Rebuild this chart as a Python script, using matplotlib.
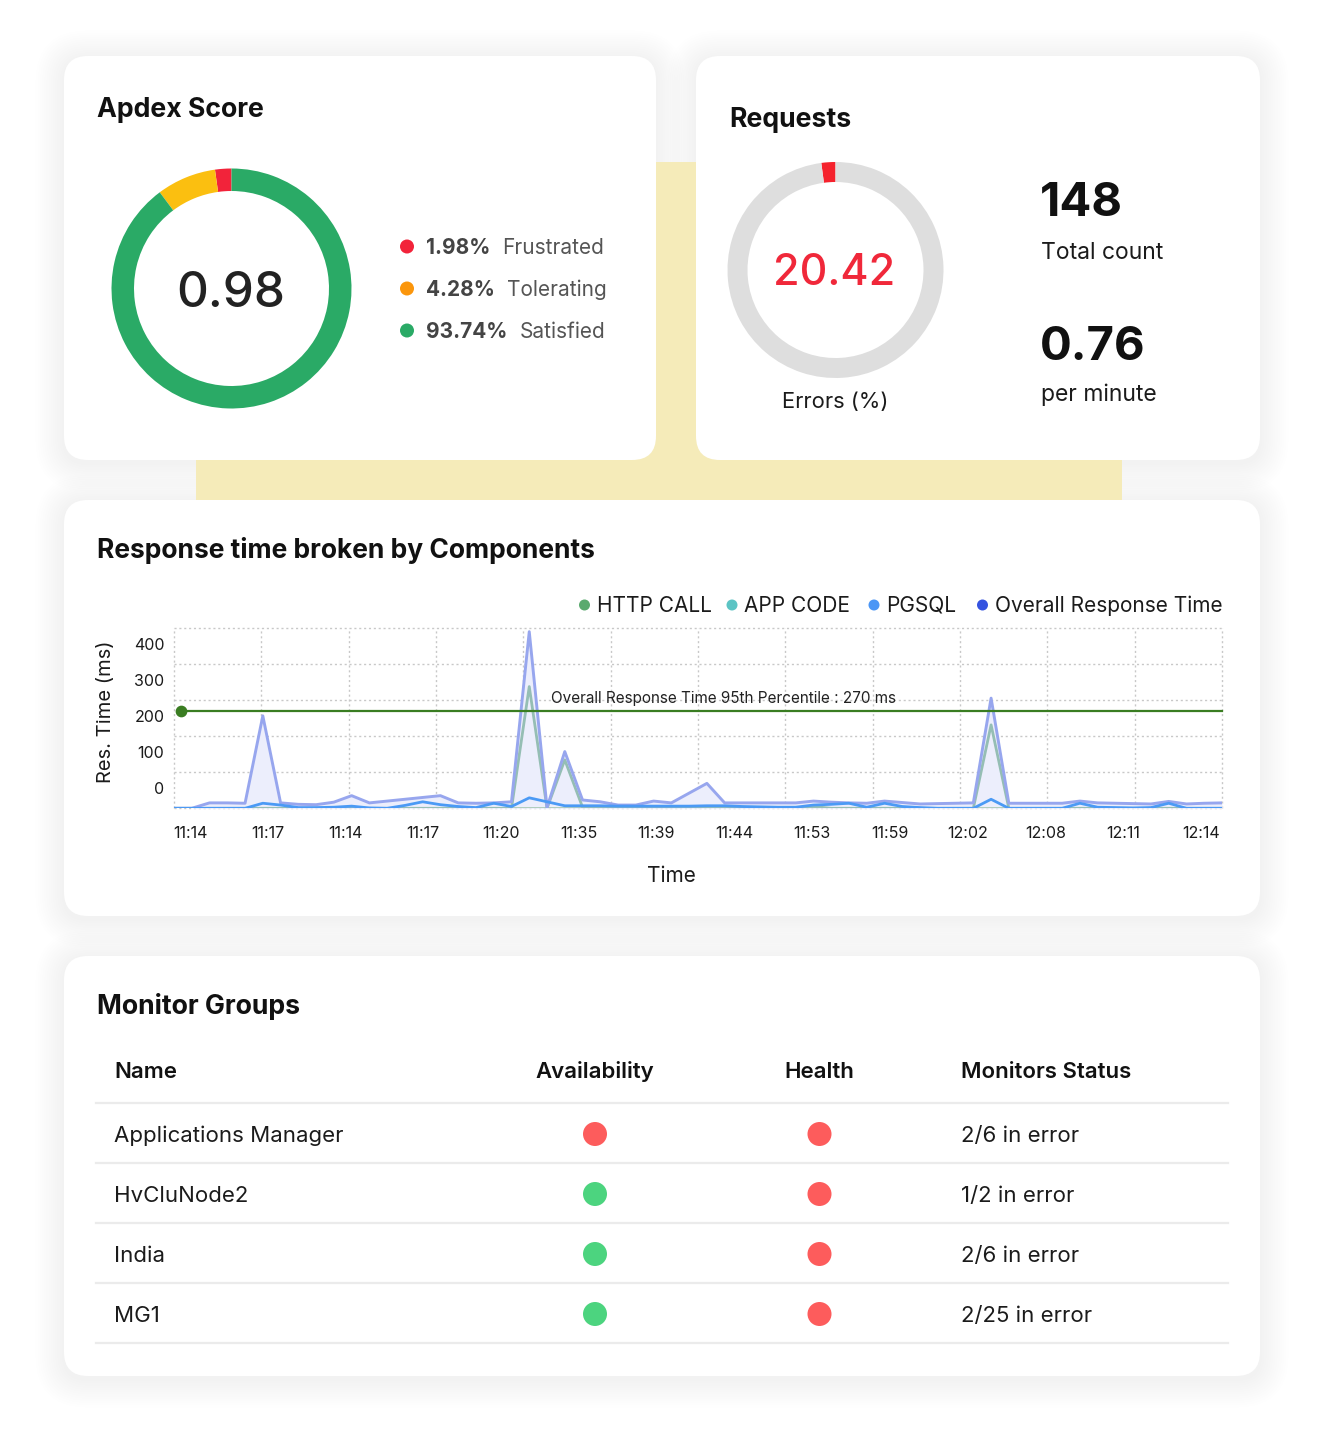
import matplotlib
matplotlib.use('Agg')
import matplotlib.pyplot as plt
from matplotlib.patches import FancyBboxPatch, Rectangle, Circle
import numpy as np

W, H = 1324, 1448
FONT = ['Inter', 'DejaVu Sans']
plt.rcParams['font.family'] = FONT

# ---------------- data ----------------
apdex_score = '0.98'
apdex_labels = ['Frustrated', 'Tolerating', 'Satisfied']
apdex_pct_text = ['1.98%', '4.28%', '93.74%']
apdex_arc_share = [2.2, 8.0, 89.8]          # arc lengths as drawn in the ring
apdex_ring_colors = ['#f2233a', '#fbbf10', '#2aaa66']
apdex_dot_colors = ['#f2233a', '#fb960c', '#2aaa66']

error_pct_text = '20.42'
error_arc_share = [2.1, 97.9]
requests_total = '148'
requests_per_min = '0.76'

time_labels = ['11:14', '11:17', '11:14', '11:17', '11:20', '11:35', '11:39',
               '11:44', '11:53', '11:59', '12:02', '12:08', '12:11', '12:14']

series_names = ['HTTP CALL', 'APP CODE', 'PGSQL', 'Overall Response Time']
overall = [0, 0, 15, 15, 14, 256, 15, 11, 10, 17,
           35, 15, 20, 25, 30, 35, 15, 14, 15, 18,
           489, 2, 157, 23, 18, 9, 9, 20, 15, 42,
           69, 15, 15, 15, 15, 15, 20, 17, 15, 14,
           20, 16, 12, 13, 14, 15, 305, 14, 14, 14,
           14, 20, 15, 14, 13, 12, 19, 12, 14, 15]
app_code = [0, 0, 0, 0, 0, 0, 0, 0, 0, 0,
            0, 0, 0, 0, 0, 0, 0, 0, 0, 0,
            337, 0, 134, 3, 0, 0, 0, 0, 0, 0,
            0, 0, 0, 0, 0, 0, 5, 0, 0, 0,
            0, 0, 0, 0, 0, 0, 231, 0, 0, 0,
            0, 0, 0, 0, 0, 0, 0, 0, 0, 0]
pgsql = [0, 0, 0, 0, 0, 14, 9, 2, 2, 3,
         6, 1, 0, 8, 18, 10, 5, 2, 14, 5,
         29, 18, 7, 7, 7, 6, 6, 6, 6, 6,
         7, 7, 5, 4, 3, 3, 9, 11, 14, 3,
         14, 5, 2, 0, 0, 0, 25, 0, 0, 0,
         0, 14, 3, 2, 1, 2, 14, 0, 0, 0]
http_call = [0, 0, 0, 0, 0, 0, 0, 0, 0, 0,
             0, 0, 0, 0, 0, 0, 0, 0, 0, 0,
             0, 0, 0, 0, 0, 0, 0, 0, 0, 0,
             0, 0, 0, 0, 0, 0, 0, 0, 0, 0,
             0, 0, 0, 0, 0, 0, 0, 0, 0, 0,
             0, 0, 0, 0, 0, 0, 0, 0, 0, 0]
p95_value = 270
y_tick_labels = ['0', '100', '200', '300', '400']

table_headers = ['Name', 'Availability', 'Health', 'Monitors Status']
group_names = ['Applications Manager', 'HvCluNode2', 'India', 'MG1']
availability = ['down', 'up', 'up', 'up']
health = ['critical', 'critical', 'critical', 'critical']
monitor_status = ['2/6 in error', '1/2 in error', '2/6 in error', '2/25 in error']

# ---------------- figure ----------------
fig = plt.figure(figsize=(W / 100, H / 100), dpi=100)
fig.patch.set_facecolor('white')
bg = fig.add_axes([0, 0, 1, 1])
bg.set_xlim(0, W)
bg.set_ylim(H, 0)
bg.axis('off')

def px2fig(x0, y0, x1, y1):
    return [x0 / W, 1 - y1 / H, (x1 - x0) / W, (y1 - y0) / H]

cards = [(64, 56, 656, 460), (696, 56, 1260, 460), (64, 500, 1260, 916), (64, 956, 1260, 1376)]

def shadow(x0, y0, x1, y1, r=24):
    w, h = x1 - x0, y1 - y0
    for i in range(1, 14):
        s = i * 2.2
        bg.add_patch(FancyBboxPatch((x0 - s, y0 - s + 3), w + 2 * s, h + 2 * s,
                                    boxstyle=f'round,pad=0,rounding_size={r + s}',
                                    fc='black', alpha=0.0042, lw=0, zorder=1))

def card(x0, y0, x1, y1, r=24):
    bg.add_patch(FancyBboxPatch((x0, y0), x1 - x0, y1 - y0,
                                boxstyle=f'round,pad=0,rounding_size={r}',
                                fc='white', lw=0, zorder=3))

for c in cards:
    shadow(*c)
# yellow decorative block (above shadows, below cards)
bg.add_patch(Rectangle((196, 162), 1122 - 196, 500 - 162, fc='#f5ebb9', lw=0, zorder=2))
for c in cards:
    card(*c)

TXT = '#1b1b1b'
fig.canvas.draw()
renderer = fig.canvas.get_renderer()

# ---------------- Apdex card ----------------
bg.text(97, 117, 'Apdex Score', fontsize=19.2, fontweight='bold', color='#111',
        va='baseline', ha='left', zorder=5)
ax_ap = fig.add_axes(px2fig(231.5 - 125, 288.5 - 125, 231.5 + 125, 288.5 + 125))
ax_ap.pie(apdex_arc_share, colors=apdex_ring_colors, startangle=90, counterclock=True,
          radius=120, wedgeprops=dict(width=22.5, linewidth=0))
ax_ap.set_xlim(-125, 125)
ax_ap.set_ylim(-125, 125)
ax_ap.set_aspect('equal')
ax_ap.axis('off')
bg.text(231, 307, apdex_score, fontsize=35.5, fontweight='medium', color='#222',
        ha='center', va='baseline', zorder=5)

for i, (pct, lab, col) in enumerate(zip(apdex_pct_text, apdex_labels, apdex_dot_colors)):
    yb = 254 + 42 * i
    bg.add_patch(Circle((407, yb - 7.5), 7, fc=col, lw=0, zorder=5))
    t = bg.text(426, yb, pct, fontsize=15, fontweight='bold', color='#444',
                ha='left', va='baseline', zorder=5)
    wpx = t.get_window_extent(renderer).width
    bg.text(426 + wpx + 12, yb, lab, fontsize=15, color='#555',
            ha='left', va='baseline', zorder=5)

# ---------------- Requests card ----------------
bg.text(729, 127, 'Requests', fontsize=19.2, fontweight='bold', color='#111',
        va='baseline', ha='left', zorder=5)
ax_rq = fig.add_axes(px2fig(835.5 - 115, 270 - 115, 835.5 + 115, 270 + 115))
ax_rq.pie(error_arc_share, colors=['#f5222d', '#dedede'], startangle=90, counterclock=True,
          radius=108, wedgeprops=dict(width=20, linewidth=0))
ax_rq.set_xlim(-115, 115)
ax_rq.set_ylim(-115, 115)
ax_rq.set_aspect('equal')
ax_rq.axis('off')
bg.text(834, 285, error_pct_text, fontsize=31, fontweight='medium', color='#f0283a',
        ha='center', va='baseline', zorder=5)
bg.text(835, 408, 'Errors (%)', fontsize=15.8, color=TXT, ha='center', va='baseline', zorder=5)
bg.text(1040, 216, requests_total, fontsize=34, fontweight='bold', color='#111',
        ha='left', va='baseline', zorder=5)
bg.text(1041, 259, 'Total count', fontsize=16.5, color=TXT, ha='left', va='baseline', zorder=5)
bg.text(1040, 360, requests_per_min, fontsize=34, fontweight='bold', color='#111',
        ha='left', va='baseline', zorder=5)
bg.text(1041, 401, 'per minute', fontsize=16.5, color=TXT, ha='left', va='baseline', zorder=5)

# ---------------- Response time chart ----------------
bg.text(97, 558, 'Response time broken by Components', fontsize=19.0, fontweight='bold',
        color='#111', va='baseline', ha='left', zorder=5)

legend_colors = ['#5aaa6e', '#5cc4c4', '#4b96f5', '#3553e0']
legend_dot_x = [584.5, 732, 874, 982.5]
for name, col, dx in zip(series_names, legend_colors, legend_dot_x):
    bg.add_patch(Circle((dx, 605), 5.5, fc=col, lw=0, zorder=5))
    bg.text(dx + 12.5, 611.7, name, fontsize=15, color=TXT, ha='left', va='baseline', zorder=5)

ax = fig.add_axes(px2fig(174, 627.7, 1222, 808.3))
ax.set_facecolor('none')
n = len(overall)
x = np.arange(n)
ax.set_xlim(0, n - 1)
ax.set_ylim(0, 500)
for s in ax.spines.values():
    s.set_visible(False)
grid_kw = dict(color='#c8c8c8', lw=1, linestyle=(0, (1.5, 2)), zorder=0, clip_on=False)
for yv in range(0, 501, 100):
    ax.axhline(yv, **grid_kw)
for xv in np.linspace(0, n - 1, 13):
    ax.axvline(xv, **grid_kw)

ax.fill_between(x, 0, overall, color='#eceefc', lw=0, zorder=1)
ax.plot(x, http_call, color='#a9c9b6', lw=2, zorder=2)
ax.plot(x, app_code, color='#95beb4', lw=2, zorder=3)
ax.plot(x, overall, color='#97a6ee', lw=2.1, zorder=4)
ax.plot(x, pgsql, color='#4b9af5', lw=2, zorder=5)

ax.plot([0.4, n - 1], [p95_value, p95_value], color='#3a7d22', lw=1.6, zorder=6, clip_on=False)
ax.scatter([0.4], [p95_value], s=55, color='#3a7d22', zorder=7, clip_on=False)
ax.text(21.2, p95_value + 22, f'Overall Response Time 95th Percentile : {p95_value} ms',
        fontsize=11, color='#222', ha='left', va='baseline', zorder=8)

ax.set_yticks([55, 155, 255, 355, 455])
ax.set_yticklabels(y_tick_labels)
ax.set_xticks(np.linspace(0.9, 57.8, len(time_labels)))
ax.set_xticklabels(time_labels)
ax.tick_params(axis='y', length=0, pad=7, labelsize=11.5, labelcolor=TXT)
ax.tick_params(axis='x', length=0, pad=13, labelsize=11.5, labelcolor=TXT)

bg.text(106, 712, 'Res. Time (ms)', fontsize=14.5, color=TXT, rotation=90,
        ha='center', va='center', zorder=5)
bg.text(671, 881.7, 'Time', fontsize=15, color=TXT, ha='center', va='baseline', zorder=5)

# ---------------- Monitor groups table ----------------
bg.text(97, 1014, 'Monitor Groups', fontsize=19.2, fontweight='bold', color='#111',
        va='baseline', ha='left', zorder=5)
hdr_x = [114, 595, 819, 961]
hdr_ha = ['left', 'center', 'center', 'left']
for hx, ha, hd in zip(hdr_x, hdr_ha, table_headers):
    bg.text(hx, 1078, hd, fontsize=16, fontweight='semibold', color='#111',
            ha=ha, va='baseline', zorder=5)
line_kw = dict(color='#ebebeb', lw=1.6, zorder=5)
bg.plot([96, 1228], [1103, 1103], **line_kw)
status_color = {'down': '#fd5c5c', 'up': '#4cd47f', 'critical': '#fd5c5c', 'clear': '#4cd47f'}
for i, (nm, av, hl, st) in enumerate(zip(group_names, availability, health, monitor_status)):
    yc = 1134 + 60 * i
    bg.text(114, yc + 8, nm, fontsize=16, color=TXT, ha='left', va='baseline', zorder=5)
    bg.add_patch(Circle((595, yc), 12, fc=status_color[av], lw=0, zorder=5))
    bg.add_patch(Circle((819.5, yc), 12, fc=status_color[hl], lw=0, zorder=5))
    bg.text(961, yc + 8, st, fontsize=16, color=TXT, ha='left', va='baseline', zorder=5)
    bg.plot([96, 1228], [yc + 29, yc + 29], **line_kw)

fig.savefig('out.png', dpi=100, facecolor='white')
